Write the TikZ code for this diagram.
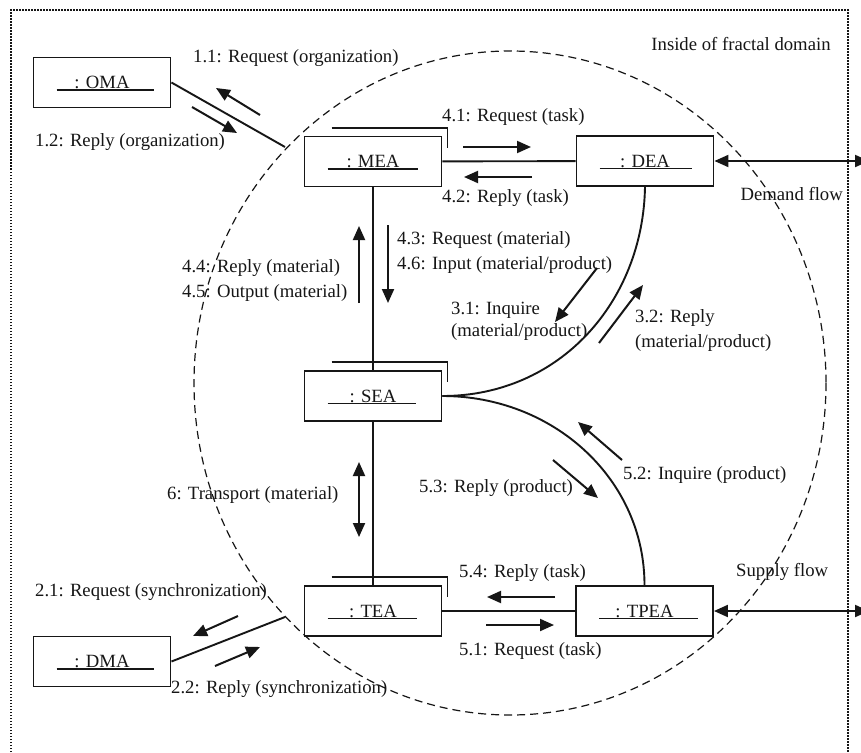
\documentclass[tikz,border=0pt]{standalone}
\usepackage{fontspec}
\setmainfont{Liberation Serif}
\usetikzlibrary{arrows.meta}
\definecolor{ink}{HTML}{161616}
\begin{document}
\begin{tikzpicture}[x=1pt,y=-1pt,
  every node/.style={font=\fontsize{18.7}{25}\selectfont, inner sep=0pt, text=ink},
  agent/.style={draw=ink, line width=1.9pt, minimum width=137pt, minimum height=50pt,
    path picture={\draw[ink, line width=1.4pt]
      ([xshift=23pt,yshift=-7.5pt]path picture bounding box.west) --
      ([xshift=-#1,yshift=-7.5pt]path picture bounding box.east);}},
  agent/.default=22pt,
  link/.style={draw=ink, line width=1.9pt},
  stackmark/.style={draw=ink, line width=1.9pt},
  msg/.style={draw=ink, line width=2pt, -{Triangle[length=14pt,width=12pt]}},
  flow/.style={draw=ink, line width=2pt,
    {Triangle[length=14pt,width=12pt]}-{Triangle[length=14pt,width=12pt]}},
  boundaryline/.style={draw=ink, dash pattern=on 8pt off 5pt, line width=1.2pt},
  outerframe/.style={draw=ink, dash pattern=on 1.5pt off 1.5pt, line width=2.8pt},
  lbl/.style={anchor=west, align=left}]

% canvas
\fill[white] (0,0) rectangle (861,752);
\useasboundingbox (0,0) rectangle (861,752);

% fractal domain: open dotted frame and dashed boundary
\draw[outerframe] (11,752) -- (11,10) -- (848,10) -- (848,752);
\draw[boundaryline] (510,383) ellipse [x radius=316, y radius=332];
\node (inside) at (741,44) {Inside of fractal domain};

% agents
\node[agent=17pt] (oma)  at (102,82.5)  {: OMA};
\node[agent=24pt] (mea)  at (373,161.5) {: MEA};
\node[agent=22pt] (dea)  at (645,161)   {: DEA};
\node[agent=26pt] (sea)  at (373,396)   {: SEA};
\node[agent=25pt] (tea)  at (373,611)   {: TEA};
\node[agent=15pt] (tpea) at (644.5,611) {: TPEA};
\node[agent=17pt] (dma)  at (102,661.5) {: DMA};

% multi-object marks
\foreach \a in {mea,sea,tea}
  \draw[stackmark] ([shift={(28,-8)}]\a.north west) -| ([shift={(5,12)}]\a.north east);

% boundary crossing points and outside ends
\coordinate (omaend)  at (285,147);
\coordinate (dmaend)  at (285,617);
\coordinate (deaout)  at (869,161);
\coordinate (tpeaout) at (869,611);

% links
\draw[link] (oma.east) -- (omaend);
\draw[link] (dma.east) -- (dmaend);
\draw[link] (mea) -- (dea);
\draw[link] (mea) -- (sea);
\draw[link] (sea) -- (tea);
\draw[link] (tea) -- (tpea);
\draw[link] (dea.south) .. controls +(-2,114) and +(118,0) .. (sea.east);
\draw[link] (sea.east) .. controls +(111,0) and +(0,-106) .. (tpea.north);
\draw[flow] (dea.east) -- (deaout);
\draw[flow] (tpea.east) -- (tpeaout);
\node[anchor=east] (demand) at (843,194) {Demand flow};
\node[lbl] (supply) at (736,572) {Supply flow};

% messages
\draw[msg] (260,115) -- (216,88);
\draw[msg] (192,107) -- (237,133);
\node[lbl] (m11) at (193,58)  {1.1: Request (organization)};
\node[lbl] (m12) at (35,142)  {1.2: Reply (organization)};

\draw[msg] (463,147) -- (531,147);
\draw[msg] (532,177) -- (464,177);
\node[lbl] (m41) at (442,117) {4.1: Request (task)};
\node[lbl] (m42) at (442,198) {4.2: Reply (task)};

\draw[msg] (359,303) -- (359,226);
\draw[msg] (388,225) -- (388,303);
\node[lbl] (m44) at (182,280.5) {4.4: Reply (material)\\4.5: Output (material)};
\node[lbl] (m43) at (397,252.5) {4.3: Request (material)\\4.6: Input (material/product)};

\draw[msg] (597,268) -- (555,322);
\draw[msg] (599,343) -- (643,285);
\node[lbl, font=\fontsize{18.7}{22}\selectfont] (m31) at (451,321) {3.1: Inquire\\(material/product)};
\node[lbl] (m32) at (635,330.5) {3.2: Reply\\(material/product)};

\draw[msg] (622,460) -- (578,422);
\draw[msg] (553,460) -- (598,498);
\node[lbl] (m52) at (623,475) {5.2: Inquire (product)};
\node[lbl] (m53) at (419,488) {5.3: Reply (product)};

\draw[flow] (359,462) -- (359,537);
\node[lbl] (m6) at (167,495) {6: Transport (material)};

\draw[msg] (555,597) -- (487,597);
\draw[msg] (486,625) -- (554,625);
\node[lbl] (m54) at (459,573) {5.4: Reply (task)};
\node[lbl] (m51) at (459,651) {5.1: Request (task)};

\draw[msg] (238,616) -- (193,636);
\draw[msg] (215,666) -- (260,647);
\node[lbl] (m21) at (35,592)  {2.1: Request (synchronization)};
\node[lbl] (m22) at (171,689) {2.2: Reply (synchronization)};
\end{tikzpicture}
\end{document}
